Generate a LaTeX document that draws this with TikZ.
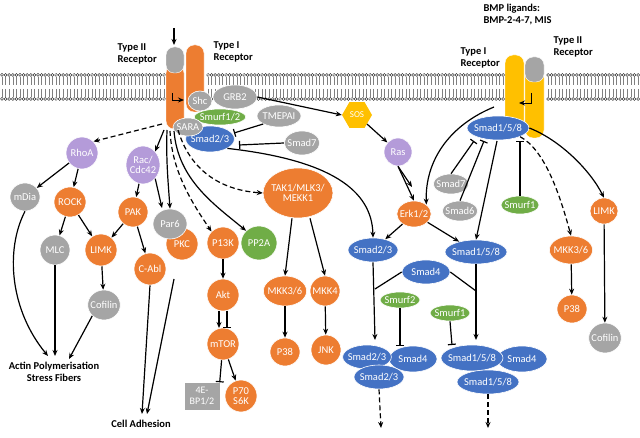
\documentclass[tikz,border=0pt]{standalone}
\usepackage{fontspec}
\setmainfont{Carlito}
\usetikzlibrary{shapes.geometric,arrows.meta}
\definecolor{cor}{HTML}{ED7D31}
\definecolor{cgr}{HTML}{A5A5A5}
\definecolor{cbl}{HTML}{4472C4}
\definecolor{cgn}{HTML}{70AD47}
\definecolor{cpu}{HTML}{B49BD9}
\definecolor{cye}{HTML}{FFC000}
\newcommand\EE[7]{\node[ov,fill=#6,minimum width=#4*2pt,minimum height=#5*2pt] (#1) at (#2,#3) {#7};}
\begin{document}
\begin{tikzpicture}[x=1pt,y=-1pt,
 ov/.style={ellipse,draw=white,line width=0.6pt,text=white,inner sep=-2pt,font=\fontsize{10.5}{10.5}\selectfont,align=center},
 lbl/.style={font=\bfseries\fontsize{10.5}{12}\selectfont,align=left,anchor=west},
 ar/.style={-{Stealth[length=6pt,width=5pt]},line width=1.2pt},
 da/.style={ar,dashed,dash pattern=on 5pt off 3pt},
 inh/.style={-{Bar[width=8pt]},line width=1.2pt},
 ln/.style={line width=1.2pt}]
\useasboundingbox (0,0) rectangle (640,438);
\fill[white] (0,0) rectangle (640,438);
% membrane
\foreach \a/\n in {2/45,208/83,548/26}{
 \foreach \i in {0,...,\n}{
  \pgfmathsetmacro\x{\a+3.6*\i}
  \draw[gray,line width=0.6pt] (\x,77) -- (\x,85) (\x,89) -- (\x,97);
  \draw[black,line width=0.35pt,fill=white] (\x,75) circle (1.5) (\x,99) circle (1.5);
 }}
% left receptors
\fill[cor,draw=white,rounded corners=8pt] (186,45) rectangle (204,112);
\fill[cor,draw=white,rounded corners=8pt] (166,65) rectangle (184,129);
\fill[cgr,draw=white,rounded corners=8pt] (166,47) rectangle (184,73);
\coordinate (lt) at (174,28);\coordinate (lh) at (174,45);
\draw[ar] (lt) -- (lh);
\coordinate (b1) at (172,93);\coordinate (b2) at (184,100);
\draw[ar,line width=0.9pt] (b1) |- (b2);
\node[lbl] (t2l) at (114,54) {Type II\\Receptor};
\node[lbl] (t1l) at (210,52) {Type I\\Receptor};
% right receptors
\fill[cye,draw=white,rounded corners=8pt] (505,55) rectangle (524,136);
\fill[cye,draw=white,rounded corners=8pt] (525,70) rectangle (544,138);
\fill[cgr,draw=white,rounded corners=8pt] (525,57) rectangle (544,82);
\coordinate (c1) at (531,93);\coordinate (c2) at (519,103);
\draw[ar,line width=0.9pt] (c1) |- (c2);
\node[lbl] (t1r) at (457,58) {Type I\\Receptor};
\node[lbl] (t2r) at (550,47) {Type II\\Receptor};
\node[lbl] (bmp) at (480,15) {BMP ligands:\\BMP-2-4-7, MIS};
% nodes
\EE{shc}{200}{101}{12}{10}{cgr}{Shc}
\EE{grb}{235}{97}{22}{12}{cgr}{GRB2}
\EE{tme}{279}{116}{22}{11}{cgr}{TMEPAI}
\EE{smu12}{220}{117}{22}{8}{cgn}{Smurf1/2}
\EE{s23t}{210}{139}{24}{13}{cbl}{Smad2/3}
\EE{sara}{188}{127}{15}{9}{cgr}{SARA}
\EE{s7a}{302}{143}{15}{12}{cgr}{Smad7}
\node[regular polygon,regular polygon sides=6,fill=cye,text=white,minimum width=30pt,inner sep=0pt,font=\fontsize{9}{9}\selectfont] (sos) at (357,115) {SOS};
\EE{ras}{398}{152}{14}{14}{cpu}{Ras}
\EE{erk}{414}{214}{15}{13}{cor}{Erk1/2}
\EE{s158t}{498}{128}{28}{12}{cbl}{Smad1/5/8}
\EE{s7b}{451}{184}{16}{10}{cgr}{Smad7}
\EE{s6}{460}{211}{16}{10}{cgr}{Smad6}
\EE{smu1r}{520}{205}{19}{9}{cgn}{Smurf1}
\EE{limkr}{604}{211}{14}{13}{cor}{LIMK}
\EE{mkkr}{571}{250}{20}{14}{cor}{MKK3/6}
\EE{p38r}{572}{309}{15}{14}{cor}{P38}
\EE{cofr}{605}{338}{16}{15}{cgr}{Cofilin}
\EE{s23m}{373}{250}{25}{12}{cbl}{Smad2/3}
\EE{s158m}{476}{252}{28}{12}{cbl}{Smad1/5/8}
\EE{s4m}{426}{272}{24}{12}{cbl}{Smad4}
\EE{smu2}{400}{300}{20}{8}{cgn}{Smurf2}
\EE{smu1m}{450}{313}{20}{8}{cgn}{Smurf1}
\EE{s4a}{413}{359}{24}{13}{cbl}{Smad4}
\EE{s23a}{367}{357}{24}{12}{cbl}{Smad2/3}
\EE{s23b}{379}{377}{25}{12}{cbl}{Smad2/3}
\EE{s4b}{522}{359}{25}{13}{cbl}{Smad4}
\EE{s158a}{472}{358}{28}{13}{cbl}{Smad1/5/8}
\EE{s158b}{488}{382}{28}{12}{cbl}{Smad1/5/8}
\EE{rhoa}{82}{153}{16}{16}{cpu}{RhoA}
\EE{mdia}{25}{197}{15}{14}{cgr}{mDia}
\EE{rock}{70}{202}{16}{15}{cor}{ROCK}
\EE{rac}{143}{165}{17}{19}{cpu}{Rac/\\Cdc42}
\EE{pak}{133}{212}{15}{15}{cor}{PAK}
\EE{pkc}{182}{244}{16}{16}{cor}{PKC}
\EE{par6}{170}{224}{17}{15}{cgr}{Par6}
\EE{p13k}{223}{243}{16}{16}{cor}{P13K}
\EE{pp2a}{259}{243}{18}{17}{cgn}{PP2A}
\EE{cabl}{150}{269}{16}{16}{cor}{C-Abl}
\EE{limkl}{101}{250}{16}{16}{cor}{LIMK}
\EE{mlc}{55}{250}{15}{15}{cgr}{MLC}
\EE{cofl}{104}{305}{16}{15}{cgr}{Cofilin}
\EE{akt}{223}{295}{16}{16}{cor}{Akt}
\EE{mtor}{223}{344}{16}{16}{cor}{mTOR}
\node[fill=cgr,text=white,minimum width=35pt,minimum height=27pt,inner sep=0pt,align=center,font=\fontsize{10}{10.5}\selectfont] (ebp) at (202,396) {4E-\\BP1/2};
\EE{p70}{241}{396}{16}{16}{cor}{P70\\S6K}
\EE{tak}{298}{193}{31}{25}{cor}{TAK1/MLK3/\\MEKK1}
\EE{mkkl}{285}{291}{20}{15}{cor}{MKK3/6}
\EE{mkk4}{325}{291}{15}{15}{cor}{MKK4}
\EE{p38l}{285}{352}{15}{14}{cor}{P38}
\EE{jnk}{326}{350}{15}{15}{cor}{JNK}
\node[lbl,anchor=center,align=center] (actin) at (54,372) {Actin Polymerisation\\Stress Fibers};
\node[lbl,anchor=center] (cell) at (141,424) {Cell Adhesion};
% top edges
\draw[ar] (grb.east) -- (sos.west);
\draw[ar] (sos) -- (ras);
\draw[inh] (tme.south west) -- (234,133);
\draw[inh] (s7a.west) -- (239,145);
\draw[ar] (s23t.south east) .. controls (330,160) and (372,190) .. (s23m.north);
\draw[ar] (ras.south) -- (erk.north);
\draw[ar] (ras.south) -- (412,187);
\draw[ar] (erk) -- (s23m);
\draw[ar] (erk) -- (s158m);
\draw[ar] (494,107) .. controls (450,125) and (425,160) .. (erk.north east);
\draw[inh] (s7b.north) -- (474,141);
\draw[inh] (s6.north) -- (484,141);
\draw[inh] (smu1r.north) -- (520,141);
\draw[ar] (497,141) -- (s158m.north);
\draw[da] (s158t.south east) .. controls (545,150) and (560,195) .. (mkkr.north);
\draw[ar] (s158t.east) .. controls (560,140) and (590,170) .. (limkr.north);
\draw[ar] (mkkr) -- (p38r);
\draw[ar] (limkr) -- (cofr);
% smad complexes
\draw[ar] (s23m.south) -- (375,340);
\draw[ar] (s158m.south) -- (476,340);
\coordinate (j1) at (375,289);\coordinate (j2) at (476,291);
\draw[ln] (s4m.west) -- (j1);
\draw[ln] (s4m.east) -- (j2);
\draw[inh] (smu2.south) -- (400,346);
\draw[inh] (smu1m.south) -- (452,345);
\draw[da] (s23b.south) -- (381,428);
\draw[da] (s158b.south) -- (488,428);
% left edges
\draw[da] (162,124) -- (rhoa.north east);
\draw[ar] (164,130) -- (rac.north east);
\draw[ar] (167,130) .. controls (166,160) and (168,180) .. (par6.north);
\draw[da] (170,131) .. controls (172,170) and (190,200) .. (p13k.north west);
\draw[ar] (174,131) .. controls (178,180) and (215,205) .. (pp2a.north west);
\draw[da] (178,130) .. controls (190,170) and (220,190) .. (tak.west);
\draw[ar] (rhoa) -- (mdia);
\draw[ar] (rhoa) -- (rock);
\draw[ar] (rock) -- (mlc);
\draw[ar] (rock) -- (limkl);
\draw[ar] (limkl) -- (cofl);
\draw[ar] (cofl.south west) -- (69,359);
\draw[ar] (mlc.south) -- (55,356);
\draw[ar] (mdia.south) .. controls (5,250) and (10,310) .. (48,356);
\draw[ar] (rac) -- (pak);
\draw[ar] (rac.south east) -- (162,208);
\draw[ar] (pak) -- (limkl);
\draw[ar] (pak) -- (cabl);
\draw[ar] (cabl.south) -- (142,414);
\draw[ar] (174,279) -- (147,414);
\draw[ar] (p13k) -- (akt);
\draw[ar] (219,311) -- (219,328);
\draw[inh] (227,311) -- (227,328);
\draw[inh] (mtor) -- (ebp.north east);
\draw[ar] (mtor) -- (p70);
\draw[ar] (tak.south) ++(-6,0) -- (mkkl.north);
\draw[ar] (tak.south) ++(12,0) -- (mkk4.north);
\draw[ar] (mkkl) -- (p38l);
\draw[ar] (mkk4) -- (jnk);
\end{tikzpicture}
\end{document}
